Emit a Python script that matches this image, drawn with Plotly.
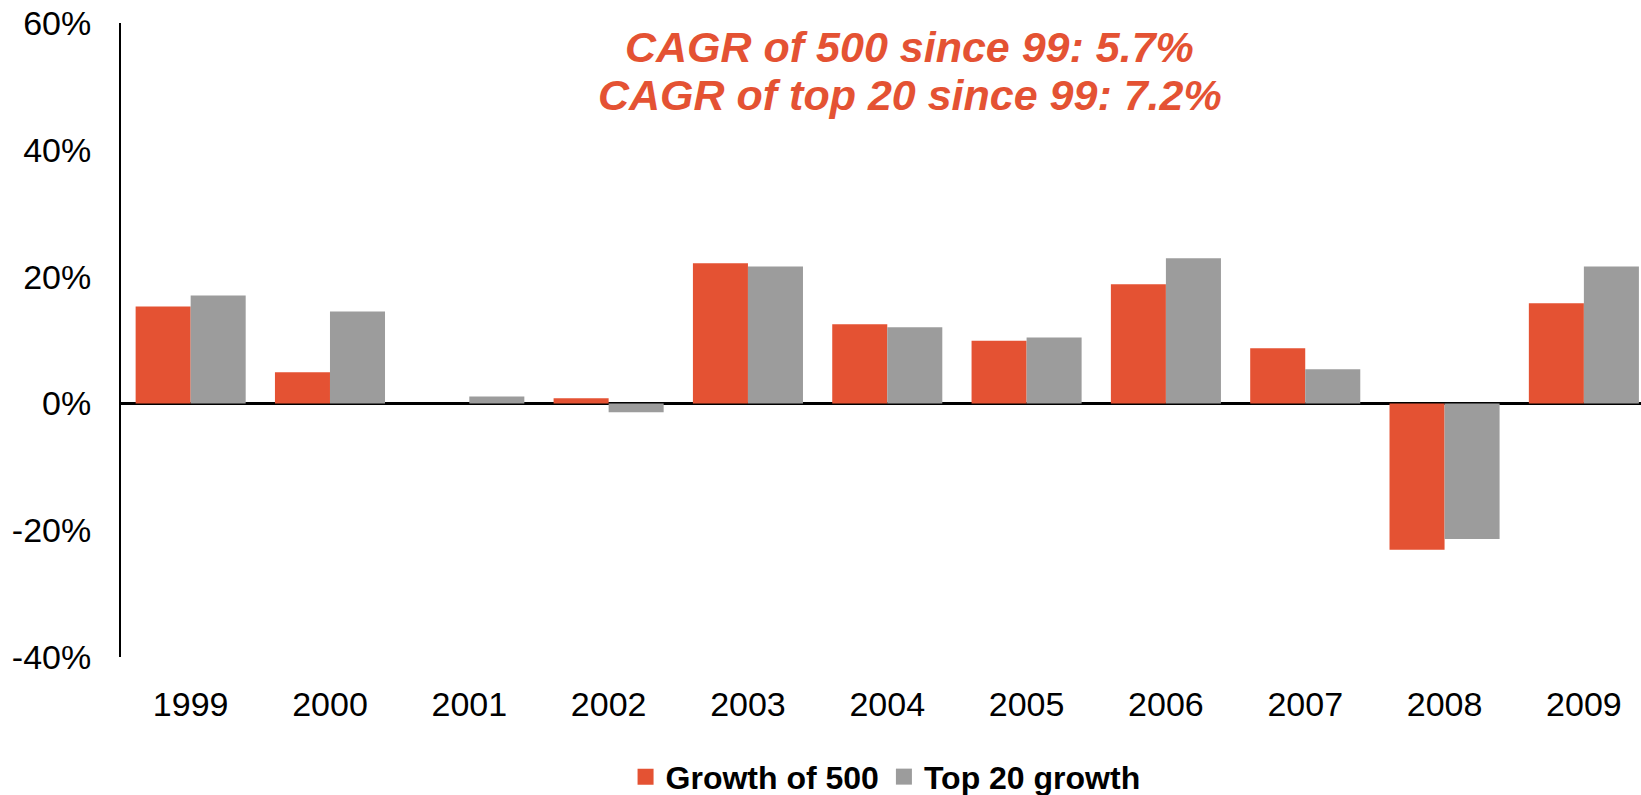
import plotly.graph_objects as go

years = ['1999', '2000', '2001', '2002', '2003', '2004', '2005', '2006', '2007', '2008', '2009']
growth_500 = [0.153, 0.049, 0.0, 0.008, 0.221, 0.125, 0.099, 0.188, 0.087, -0.231, 0.158]
top20_growth = [0.170, 0.145, 0.011, -0.014, 0.216, 0.120, 0.104, 0.229, 0.054, -0.214, 0.216]
series_names = ['Growth of 500', 'Top 20 growth']
cagr_lines = ['CAGR of 500 since 99: 5.7%', 'CAGR of top 20 since 99: 7.2%']
y_tickvals = [-0.4, -0.2, 0.0, 0.2, 0.4, 0.6]
y_ticktext = ['-40%', '-20%', '0%', '20%', '40%', '60%']

RED = '#E45233'
GREY = '#9C9C9C'
FONT = 'Liberation Sans, Arial, sans-serif'

fig = go.Figure()

# bars (legend drawn by the dummy square markers below)
fig.add_trace(go.Bar(x=years, y=growth_500, name=series_names[0],
                     marker=dict(color=RED, line=dict(width=0)),
                     showlegend=False, hoverinfo='x+y'))
fig.add_trace(go.Bar(x=years, y=top20_growth, name=series_names[1],
                     marker=dict(color=GREY, line=dict(width=0)),
                     showlegend=False, hoverinfo='x+y'))

# big square legend swatches
for name, col in zip(series_names, [RED, GREY]):
    fig.add_trace(go.Scatter(x=[None], y=[None], mode='markers', name='<b>' + name + '</b>',
                             marker=dict(symbol='square', size=27, color=col)))

fig.add_annotation(x=0.519, y=0.962, xref='paper', yref='paper', yanchor='middle',
                   text='<b><i>' + cagr_lines[0] + '</i></b>',
                   showarrow=False, font=dict(family=FONT, size=43, color=RED))
fig.add_annotation(x=0.519, y=0.886, xref='paper', yref='paper', yanchor='middle',
                   text='<b><i>' + cagr_lines[1] + '</i></b>',
                   showarrow=False, font=dict(family=FONT, size=43, color=RED))

fig.update_layout(
    width=1641, height=795,
    margin=dict(l=121, r=0, t=23, b=138, autoexpand=False),
    paper_bgcolor='white', plot_bgcolor='white',
    font=dict(family=FONT, size=34, color='black'),
    barmode='group', bargap=0.21, bargroupgap=0,
    showlegend=True,
    legend=dict(orientation='h', x=0.503, xanchor='center', y=-0.189, yanchor='middle',
                font=dict(family=FONT, size=32, color='black'),
                itemwidth=30, tracegroupgap=0, itemsizing='trace'),
    xaxis=dict(type='category', range=[-0.5, 10.41], showline=False, showgrid=False,
               zeroline=False, ticks='', ticklabelstandoff=24, automargin=False,
               tickfont=dict(size=34)),
    yaxis=dict(range=[-0.4, 0.6], tickvals=y_tickvals, ticktext=y_ticktext, showgrid=False,
               showline=True, linecolor='black', linewidth=2,
               zeroline=True, zerolinecolor='black', zerolinewidth=2.5, automargin=False,
               ticks='', ticklabelstandoff=21, tickfont=dict(size=34)),
)

fig.write_html('out.html', config={'displayModeBar': False},
               post_script="document.body.style.margin='0';document.body.style.overflow='hidden';")
